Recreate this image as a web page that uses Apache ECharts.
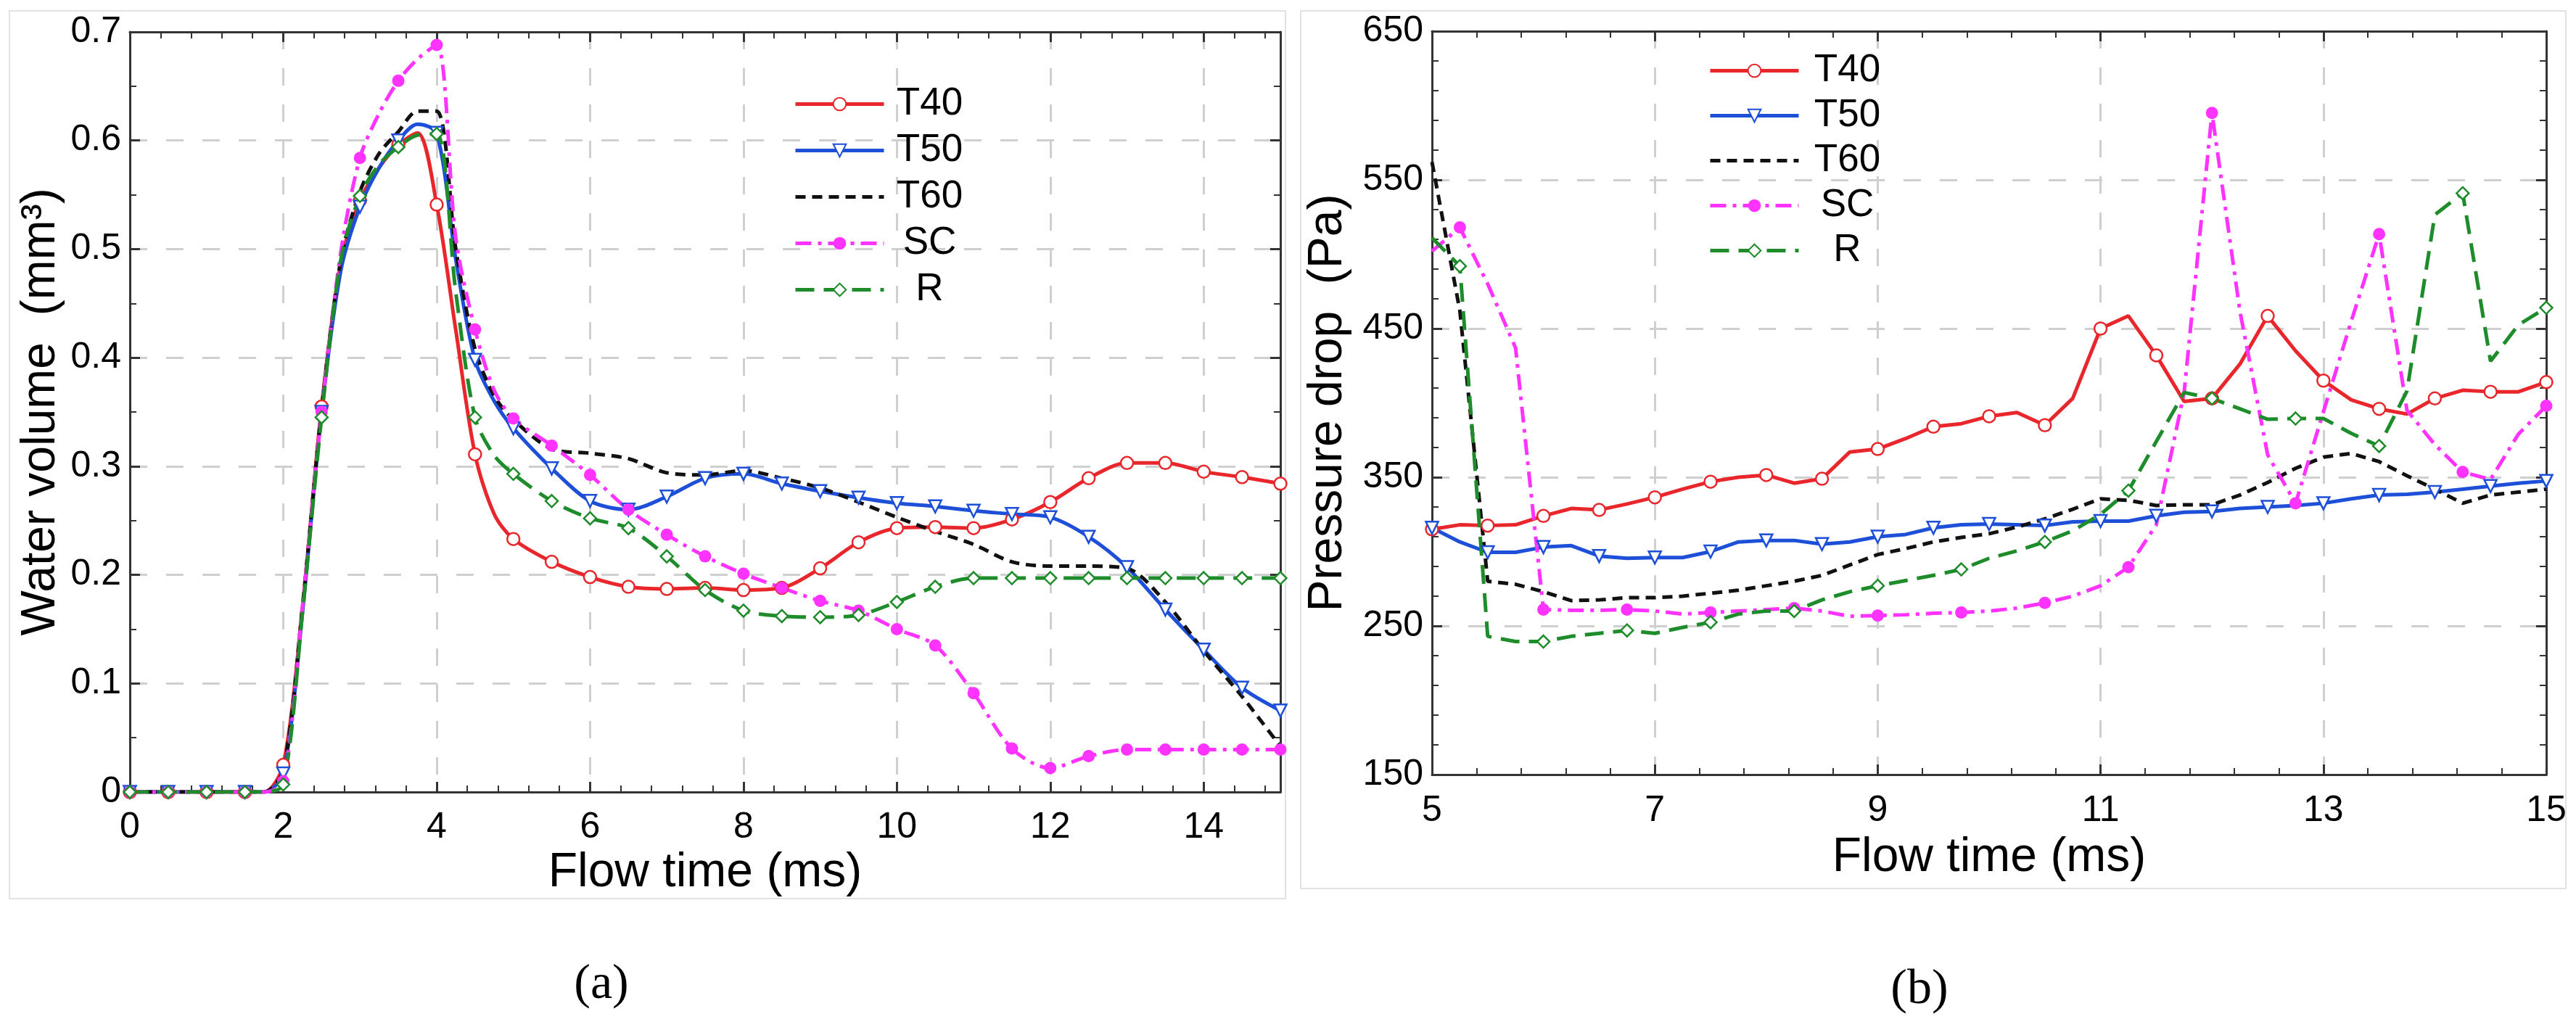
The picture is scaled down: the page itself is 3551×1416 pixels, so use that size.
<!DOCTYPE html>
<html>
<head>
<meta charset="utf-8">
<title>Water volume / Pressure drop</title>
<script src="https://cdn.jsdelivr.net/npm/echarts@6/dist/echarts.min.js"></script>
<style>
  html, body { margin: 0; padding: 0; background: #fff; }
  #chart { width: 3551px; height: 1416px; }
</style>
</head>
<body>
<div id="chart"></div>
<script>
// (a) water volume, flow time in ms
const timeA = [0, 0.5, 1, 1.5, 1.75, 2, 2.25, 2.5, 2.75, 3, 3.25, 3.5, 3.75, 4, 4.25, 4.5, 4.75, 5,
    5.5, 6, 6.5, 7, 7.5, 8, 8.5, 9, 9.5, 10, 10.5, 11, 11.5, 12, 12.5, 13, 13.5, 14, 14.5, 15];
const volT40 = [0, 0, 0, 0, 0, 0.025, 0.17, 0.355, 0.487, 0.545, 0.575, 0.596, 0.607, 0.541, 0.425, 0.311, 0.256, 0.233,
    0.212, 0.198, 0.189, 0.187, 0.188, 0.186, 0.188, 0.206, 0.23, 0.243, 0.244, 0.243, 0.251, 0.267, 0.289, 0.303, 0.303, 0.295, 0.29, 0.284];
const volT50 = [0, 0, 0, 0, 0, 0.017, 0.165, 0.35, 0.48, 0.539, 0.575, 0.6, 0.615, 0.607, 0.49, 0.398, 0.36, 0.335,
    0.298, 0.268, 0.26, 0.272, 0.289, 0.293, 0.284, 0.277, 0.271, 0.266, 0.263, 0.259, 0.256, 0.253, 0.235, 0.207, 0.168, 0.131, 0.096, 0.075];
const volT60 = [0, 0, 0, 0, 0, 0.02, 0.17, 0.352, 0.49, 0.553, 0.588, 0.608, 0.627, 0.627, 0.5, 0.408, 0.365, 0.343,
    0.316, 0.312, 0.307, 0.294, 0.292, 0.296, 0.289, 0.28, 0.267, 0.253, 0.24, 0.228, 0.212, 0.208, 0.208, 0.206, 0.175, 0.13, 0.088, 0.042];
const volSC = [0, 0, 0, 0, 0, 0.01, 0.17, 0.35, 0.497, 0.584, 0.625, 0.655, 0.675, 0.688, 0.51, 0.426, 0.37, 0.344,
    0.319, 0.292, 0.26, 0.237, 0.217, 0.201, 0.188, 0.176, 0.167, 0.15, 0.135, 0.091, 0.04, 0.022, 0.033, 0.039, 0.039, 0.039, 0.039, 0.039];
const volR = [0, 0, 0, 0, 0, 0.007, 0.165, 0.345, 0.49, 0.549, 0.578, 0.594, 0.605, 0.606, 0.46, 0.345, 0.31, 0.293,
    0.268, 0.252, 0.243, 0.217, 0.186, 0.167, 0.162, 0.161, 0.163, 0.175, 0.189, 0.197, 0.197, 0.197, 0.197, 0.197, 0.197, 0.197, 0.197, 0.197];

// (b) pressure drop in Pa
const timeB = [5, 5.25, 5.5, 5.75, 6, 6.25, 6.5, 6.75, 7, 7.25, 7.5, 7.75, 8, 8.25, 8.5, 8.75, 9, 9.25, 9.5, 9.75,
    10, 10.25, 10.5, 10.75, 11, 11.25, 11.5, 11.75, 12, 12.25, 12.5, 12.75, 13, 13.25, 13.5, 13.75, 14, 14.25, 14.5, 14.75, 15];
const dpT40 = [315, 318, 317.5, 318, 324, 329, 328, 332, 336.5, 342, 347, 350, 351.5, 346, 349, 367, 369, 376, 384, 386,
    391, 393.5, 385, 403, 450, 458.5, 432, 401, 403, 426, 458.5, 435, 415, 402, 396, 392.5, 403, 408.5, 407.5, 407.5, 414];
const dpT50 = [316, 306.5, 299.5, 299.5, 303, 304, 297, 295.5, 296, 296, 300, 306.5, 307.5, 307.5, 305, 306.5, 310, 311.5, 316, 318,
    318.5, 318, 317.5, 320, 320.5, 320.5, 324, 326.5, 327, 329, 330, 331, 332.5, 335.5, 338, 338.5, 340, 342, 344, 346, 347.5];
const dpT60 = [562, 462, 280, 278, 273, 267, 267.5, 269, 269, 270, 272, 274, 277, 280, 284, 291, 298, 302, 306.5, 309.5,
    312, 316.5, 322, 328.5, 335.5, 334.5, 331, 331.5, 331.5, 338, 346.5, 356, 363.5, 366, 360.5, 351, 342, 332.5, 338, 340, 342];
const dpSC = [502, 518, 480, 437, 261, 260.5, 260.5, 261, 260, 258, 259, 260, 261, 262, 260, 256.5, 257, 257.5, 258.5, 259,
    260, 262, 265.5, 270, 277, 289.5, 318, 407, 595, 462, 365, 332.5, 394, 455, 513.5, 395, 372, 353.5, 348.5, 379, 398];
const dpR = [511, 492, 243, 239.5, 239.5, 243, 245, 247, 245, 249, 252.5, 258, 260, 260, 267.5, 273, 277, 280.5, 284, 288,
    295.5, 300.5, 306.5, 314, 325, 341, 374, 407, 403, 396, 389, 389.5, 389.5, 379.5, 371, 408, 526.5, 541, 428, 452.5, 464];

const names = ['T40', 'T50', 'T60', 'SC', 'R'];
const FONT = '"Liberation Sans", Arial, sans-serif';
const AXIS = '#333';

// 线型/标记
const styles = {
    T40: { color: '#e8262b', symbol: 'circle', hollow: true, dash: 'solid' },
    T50: { color: '#1d4fd8', symbol: 'triangle', rotate: 180, hollow: true, dash: 'solid' },
    T60: { color: '#111111', symbol: 'none', dash: [14, 9] },
    SC:  { color: '#ff33ff', symbol: 'circle', hollow: false, dash: [22, 9, 5, 9] },
    R:   { color: '#1e8c2a', symbol: 'diamond', hollow: true, dash: [26, 13] }
};

const pairs = (ts, vs) => ts.map((t, i) => [t, vs[i]]);
const near = (a) => Math.abs(a - Math.round(a)) < 1e-6;
// 左图每0.5ms一个标记; 右图 T40/T50 每0.5ms, SC/R 每0.75ms
const markA = () => (x) => near(x * 2);
const markB = (name) => (name === 'SC' || name === 'R') ? (x) => near((x - 5.25) / 0.75) : (x) => near(x * 2);

function makeSeries(name, data, idx, smooth, markFn) {
    const s = styles[name];
    const noMark = s.symbol === 'none';
    return {
        type: 'line',
        name: name,
        xAxisIndex: idx,
        yAxisIndex: idx,
        data: data,
        smooth: smooth,
        symbol: noMark ? 'circle' : s.symbol,
        symbolRotate: s.rotate || 0,
        symbolSize: (v) => (!noMark && markFn(v[0])) ? 17 : 0,
        showAllSymbol: true,
        lineStyle: { color: s.color, width: 5, type: s.dash },
        itemStyle: noMark
            ? { color: 'rgba(0,0,0,0)', borderWidth: 0 }
            : { color: s.hollow ? '#fff' : s.color, borderColor: s.color, borderWidth: s.hollow ? 2.5 : 0 },
        emphasis: { disabled: true },
        animation: false
    };
}

const volData = { T40: volT40, T50: volT50, T60: volT60, SC: volSC, R: volR };
const dpData = { T40: dpT40, T50: dpT50, T60: dpT60, SC: dpSC, R: dpR };
let series = [];
// axes 0/1 belong to grid 0, axes 2/3 to grid 1
names.forEach(n => series.push(makeSeries(n, pairs(timeA, volData[n]), 0, 0.3, markA())));
names.forEach(n => series.push(makeSeries(n, pairs(timeB, dpData[n]), 2, false, markB(n))));

function mainX(grid, min, max, showMax, nameGap, margin) {
    return {
        type: 'value', gridIndex: grid, min: min, max: max, interval: 2,
        axisLine: { show: true, onZero: false, lineStyle: { color: AXIS, width: 3 } },
        axisTick: { show: true, inside: true, length: 14, lineStyle: { color: AXIS, width: 3 } },
        minorTick: { show: true, splitNumber: 5, length: 9, lineStyle: { color: AXIS, width: 2 } },
        axisLabel: { fontSize: 50, color: '#000', fontFamily: FONT, margin: margin, showMaxLabel: showMax },
        splitLine: { show: true, lineStyle: { color: '#cfcfcf', width: 3, type: [24, 26] } },
        name: 'Flow time (ms)', nameLocation: 'middle', nameGap: nameGap,
        nameTextStyle: { fontSize: 66, color: '#000', fontFamily: FONT }
    };
}
function mirror(grid, pos, min, max, interval, split) {
    return {
        type: 'value', gridIndex: grid, position: pos, min: min, max: max, interval: interval,
        axisLine: { show: true, onZero: false, lineStyle: { color: AXIS, width: 3 } },
        axisTick: { show: true, inside: true, length: 14, lineStyle: { color: AXIS, width: 3 } },
        minorTick: { show: true, splitNumber: split, length: 9, lineStyle: { color: AXIS, width: 2 } },
        axisLabel: { show: false },
        splitLine: { show: false }
    };
}
function mainY(grid, min, max, interval, split, name, nameGap, fmt) {
    return {
        type: 'value', gridIndex: grid, min: min, max: max, interval: interval,
        axisLine: { show: true, onZero: false, lineStyle: { color: AXIS, width: 3 } },
        axisTick: { show: true, inside: true, length: 14, lineStyle: { color: AXIS, width: 3 } },
        minorTick: { show: true, splitNumber: split, length: 9, lineStyle: { color: AXIS, width: 2 } },
        axisLabel: { fontSize: 50, color: '#000', fontFamily: FONT, margin: 12, formatter: fmt },
        splitLine: { show: true, lineStyle: { color: '#cfcfcf', width: 3, type: [24, 26] } },
        name: name, nameLocation: 'middle', nameGap: nameGap,
        nameTextStyle: { fontSize: 66, color: '#000', fontFamily: FONT }
    };
}

function legendAt(left, top, gap, pad) {
    return {
        orient: 'vertical', left: left, top: top, itemGap: gap,
        itemWidth: 122, itemHeight: 22,
        data: names, selectedMode: false,
        lineStyle: { width: 5 },
        formatter: (n) => '{g| }{c|' + n + '}',
        textStyle: {
            fontSize: 53, lineHeight: 53, color: '#000', fontFamily: FONT,
            rich: {
                g: { width: pad, fontSize: 53, fontFamily: FONT },
                c: { width: 92, align: 'center', fontSize: 53, color: '#000', fontFamily: FONT }
            }
        }
    };
}

const chart = echarts.init(document.getElementById('chart'), null, { renderer: 'canvas' });
chart.setOption({
    backgroundColor: '#fff',
    animation: false,
    grid: [
        { left: 179, top: 44, width: 1586, height: 1048, containLabel: false },
        { left: 1974, top: 43, width: 1536, height: 1025, containLabel: false }
    ],
    xAxis: [
        mainX(0, 0, 15, false, 73, 24),
        mirror(0, 'top', 0, 15, 2, 5),
        mainX(1, 5, 15, true, 82, 25),
        mirror(1, 'top', 5, 15, 2, 5)
    ],
    yAxis: [
        mainY(0, 0, 0.7, 0.1, 2, 'Water volume  (mm\u00b3)', 89, (v) => v === 0 ? '0' : v.toFixed(1)),
        mirror(0, 'right', 0, 0.7, 0.1, 2),
        mainY(1, 150, 650, 100, 5, 'Pressure drop  (Pa)', 110, (v) => String(v)),
        mirror(1, 'right', 150, 650, 100, 5)
    ],
    legend: [
        legendAt(1089, 112, 11, 12),
        legendAt(2350, 66, 9, 16)
    ],
    graphic: [
        { type: 'rect', z: -10, shape: { x: 13, y: 15, width: 1759, height: 1224 },
          style: { fill: 'rgba(0,0,0,0)', stroke: '#e2e2e2', lineWidth: 2 } },
        { type: 'rect', z: -10, shape: { x: 1793, y: 15, width: 1744, height: 1210 },
          style: { fill: 'rgba(0,0,0,0)', stroke: '#e2e2e2', lineWidth: 2 } },
        { type: 'text', x: 829, y: 1358,
          style: { text: '(a)', fontSize: 68, fontFamily: '"Liberation Serif", "Times New Roman", serif', fill: '#000', align: 'center', verticalAlign: 'middle' } },
        { type: 'text', x: 2646, y: 1365,
          style: { text: '(b)', fontSize: 68, fontFamily: '"Liberation Serif", "Times New Roman", serif', fill: '#000', align: 'center', verticalAlign: 'middle' } }
    ],
    series: series
});
</script>
</body>
</html>
